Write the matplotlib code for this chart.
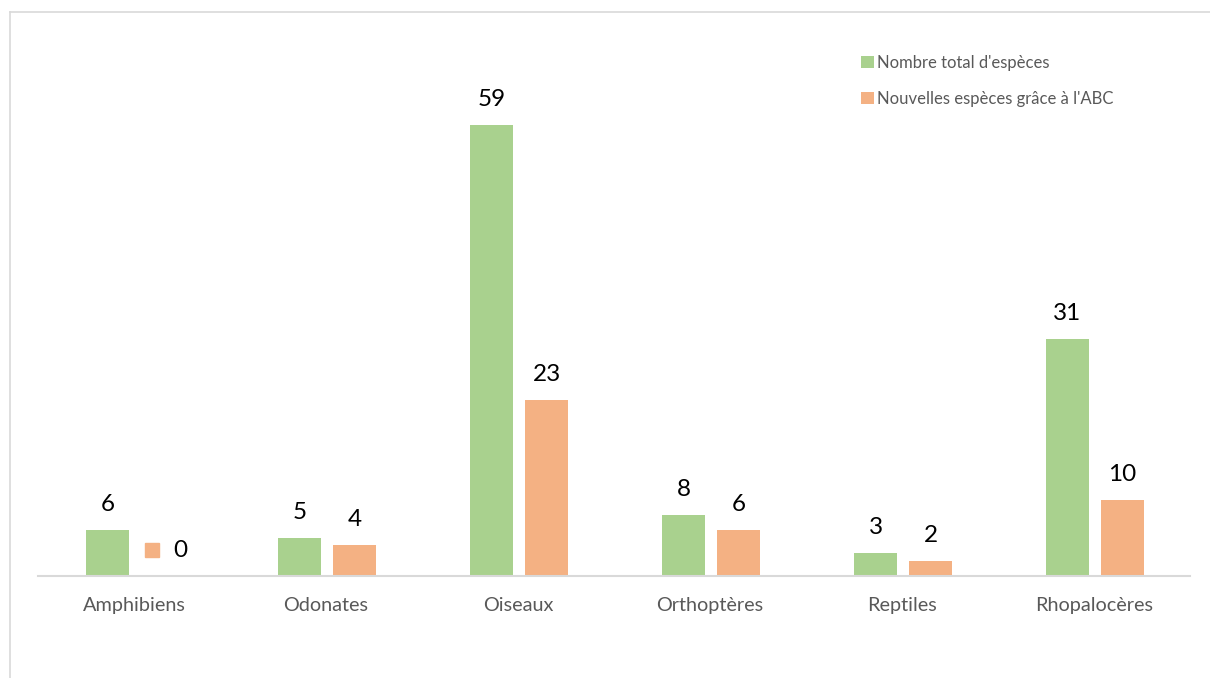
import matplotlib
matplotlib.use("Agg")
import matplotlib.pyplot as plt
import numpy as np
from matplotlib.lines import Line2D

categories = ["Amphibiens", "Odonates", "Oiseaux", "Orthoptères", "Reptiles", "Rhopalocères"]
total_species = [6, 5, 59, 8, 3, 31]
new_species = [0, 4, 23, 6, 2, 10]
series_names = ["Nombre total d'espèces", "Nouvelles espèces grâce à l'ABC"]

GREEN = "#A9D18E"
ORANGE = "#F4B183"
AXIS_GREY = "#D9D9D9"
TEXT_GREY = "#595959"

plt.rcParams["font.family"] = ["Lato", "DejaVu Sans"]

W, H = 1210, 678
fig = plt.figure(figsize=(W / 100, H / 100), dpi=100)
fig.patch.set_facecolor("white")

# outer chart frame (top and left edges visible)
fig.add_artist(Line2D([10 / W, 10 / W], [0, 1 - 12 / H], transform=fig.transFigure,
                      color=AXIS_GREY, lw=1.2))
fig.add_artist(Line2D([10 / W, 1], [1 - 12 / H, 1 - 12 / H], transform=fig.transFigure,
                      color=AXIS_GREY, lw=1.2))

left, right, bottom, top = 38, 1190, 576, 30
ax = fig.add_axes([left / W, 1 - bottom / H, (right - left) / W, (bottom - top) / H])
px_per_unit = 451 / 59
ax.set_ylim(0, (bottom - top) / px_per_unit)
ax.set_xlim(-0.5, len(categories) - 0.5)

x = np.arange(len(categories))
bw = 43.5 / 192
off = 27.5 / 192
ax.bar(x - off + 1 / 192, total_species, width=bw, color=GREEN, label=series_names[0])
ax.bar(x + off + 1 / 192, new_species, width=bw, color=ORANGE, label=series_names[1])

VAL_FS = 17.5
label_kw = dict(ha="center", va="baseline", fontsize=VAL_FS, color="black")
gap = 19 / px_per_unit
for xi, v in zip(x - off + 1 / 192, total_species):
    ax.text(xi, v + gap, str(v), **label_kw)
for xi, v in zip(x + off + 1 / 192, new_species):
    if v == 0:
        # zero-height bar: label shown with its series key
        ax.plot(xi - 11 / 192, v + 3.4, marker="s", ms=10.5, color=ORANGE, mec=ORANGE)
        ax.text(xi + 18 / 192, v + 3.4, str(v), ha="center", va="center",
                fontsize=VAL_FS, color="black")
    else:
        ax.text(xi, v + gap, str(v), **label_kw)

for s in ["top", "right", "left"]:
    ax.spines[s].set_visible(False)
ax.spines["bottom"].set_color(AXIS_GREY)
ax.spines["bottom"].set_linewidth(1.5)
ax.set_yticks([])
ax.set_xticks(x)
ax.set_xticklabels(categories, fontsize=14.3, color=TEXT_GREY)
ax.tick_params(axis="x", length=0, pad=15)

leg = ax.legend(loc="upper left", bbox_to_anchor=(846 / W, 1 - 40 / H),
                bbox_transform=fig.transFigure, frameon=False,
                handlelength=0.75, handleheight=0.75, handletextpad=0.2,
                labelspacing=1.2, fontsize=12, labelcolor=TEXT_GREY)

fig.savefig("out.png", dpi=100, facecolor="white")
